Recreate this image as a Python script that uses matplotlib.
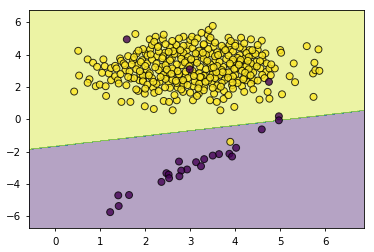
import numpy as np
import matplotlib
matplotlib.use("Agg")
from matplotlib import pyplot as plt

# class 1 (yellow) points
yellow_x = [
    0.42, 0.51, 0.53, 0.72, 0.76, 0.72, 0.84, 0.93, 0.90, 0.99, 1.04, 1.07, 1.10, 1.12, 1.13,
    1.19, 1.24, 1.24, 1.33, 1.36, 1.33, 1.39, 1.41, 1.44, 1.46, 1.47, 1.52, 1.56, 1.58, 1.62,
    1.67, 1.68, 1.73, 1.78, 1.81, 1.83, 1.84, 1.87, 1.89, 1.93, 1.95, 1.99, 1.99, 2.01, 2.04,
    2.04, 2.07, 2.10, 2.11, 2.15, 2.17, 2.19, 2.20, 2.23, 2.26, 2.29, 2.32, 2.35, 2.39, 2.41,
    2.41, 2.44, 2.47, 2.48, 2.52, 2.53, 2.59, 2.61, 2.64, 2.67, 2.69, 2.70, 2.72, 2.74, 2.78,
    2.81, 2.84, 2.85, 2.87, 2.89, 2.93, 2.96, 3.00, 3.04, 3.06, 3.07, 3.11, 3.11, 3.15, 3.16,
    3.19, 3.21, 3.22, 3.26, 3.30, 3.31, 3.33, 3.36, 3.39, 3.41, 3.43, 3.44, 3.46, 3.48, 3.50,
    3.50, 3.52, 3.53, 3.56, 3.58, 3.59, 3.63, 3.67, 3.68, 3.73, 3.74, 3.76, 3.80, 3.81, 3.85,
    3.87, 3.89, 3.93, 3.96, 3.98, 4.00, 4.02, 4.05, 4.10, 4.13, 4.15, 4.17, 4.19, 4.22, 4.24,
    4.27, 4.32, 4.35, 4.37, 4.39, 4.42, 4.47, 4.50, 4.54, 4.56, 4.59, 4.61, 4.67, 4.69, 4.70,
    4.72, 4.76, 4.76, 4.79, 4.88, 5.00, 5.02, 5.04, 5.21, 5.30, 5.33, 5.59, 5.73, 5.74, 5.76,
    5.78, 5.85, 5.87,
    1.95, 2.30, 2.55, 2.85, 3.05, 3.20, 3.40, 3.60, 3.75, 3.95, 4.10, 4.25, 4.45, 2.05, 2.40,
    2.65, 2.95, 3.35, 3.55, 3.85, 4.05, 4.30, 4.60,
    1.70, 1.90, 2.15, 2.25, 2.55, 2.70, 2.90, 3.00, 3.15, 3.30, 3.45, 3.65, 3.90, 4.10, 4.35,
    4.55, 1.55, 2.00, 2.45, 2.80, 3.60, 3.95, 4.25, 4.80,
    1.65, 1.80, 2.10, 2.30, 2.50, 2.60, 2.75, 3.05, 3.20, 3.35, 3.50, 3.70, 3.85, 4.00, 4.15,
    4.40, 4.60, 1.45, 1.95, 2.40, 2.90, 3.30, 3.65, 4.30,
    1.75, 1.95, 2.15, 2.25, 2.60, 2.70, 2.95, 3.10, 3.25, 3.40, 3.55, 3.70, 3.90, 4.05, 4.20,
    4.50, 2.05, 2.45, 2.85, 3.20, 3.60, 3.95, 4.35, 4.65,
    2.00, 2.30, 2.55, 2.80, 3.00, 3.30, 3.50, 3.75, 3.95, 4.20, 2.65, 3.15, 3.85, 1.80, 4.40,
    2.20, 2.60, 3.10, 3.30, 3.55, 3.90, 4.20, 2.45, 2.85, 3.70, 4.00, 4.50, 1.85, 1.75, 2.75,
    3.25, 3.45,
    2.12, 2.38, 2.62, 2.88, 3.12, 3.38, 3.62, 3.88, 4.12, 4.38,
    2.22, 2.48, 2.72, 2.98, 3.22, 3.48, 3.72, 3.98, 4.22,
    2.08, 2.34, 2.58, 2.84, 3.08, 3.34, 3.58, 3.84, 4.08, 4.34,
    2.18, 2.44, 2.68, 2.94, 3.18, 3.44, 3.68, 3.94, 4.18,
    1.88, 2.28, 2.78, 3.28, 3.78, 4.28, 1.62, 4.48, 2.52, 3.02, 3.52,
    3.89,
]
yellow_y = [
    1.72, 4.24, 2.71, 3.71, 2.48, 2.26, 3.50, 3.25, 2.05, 2.15, 2.88, 3.71, 3.29, 2.05, 1.45,
    2.84, 3.17, 2.42, 3.31, 3.15, 2.67, 2.42, 2.22, 3.77, 3.62, 1.08, 3.46, 3.04, 2.11, 3.91,
    1.08, 2.53, 3.66, 5.28, 4.08, 3.35, 1.76, 2.42, 2.80, 3.66, 2.42, 1.59, 0.81, 4.08, 3.46,
    3.04, 2.73, 4.95, 4.33, 4.60, 1.97, 0.64, 1.64, 5.11, 3.91, 4.54, 2.32, 3.25, 4.95, 5.24,
    1.14, 4.12, 2.63, 3.56, 2.22, 1.08, 3.77, 0.56, 3.04, 4.39, 4.60, 1.18, 1.97, 2.63, 3.97,
    3.35, 1.70, 5.11, 2.32, 2.80, 4.29, 4.60, 4.91, 5.11, 1.18, 2.05, 3.71, 2.80, 4.18, 5.01,
    1.59, 2.42, 3.25, 3.97, 4.60, 1.97, 2.73, 3.56, 5.22, 5.53, 4.91, 1.18, 4.08, 2.22, 5.78,
    3.04, 4.50, 1.59, 3.66, 2.63, 1.08, 1.90, 0.56, 4.08, 3.25, 1.26, 2.42, 3.73, 2.84, 5.05,
    4.60, 4.29, 2.11, 3.56, 0.77, 4.70, 3.15, 2.42, 3.97, 5.05, 2.05, 4.39, 3.25, 3.77, 2.42,
    2.73, 4.29, 4.95, 3.15, 3.97, 2.42, 3.56, 4.29, 1.22, 3.15, 4.87, 3.66, 4.08, 2.94, 3.46,
    1.70, 1.28, 3.15, 2.73, 3.15, 4.29, 4.12, 1.55, 2.67, 3.46, 2.30, 4.53, 2.84, 1.39, 3.50,
    3.04, 4.33, 3.00,
    4.35, 4.20, 4.45, 4.10, 4.40, 4.25, 4.35, 4.15, 4.40, 4.20, 4.45, 4.10, 4.05, 3.95, 3.90,
    4.05, 3.85, 4.00, 3.90, 3.95, 3.80, 3.85, 3.95,
    3.40, 3.55, 3.70, 3.45, 3.65, 3.40, 3.60, 3.35, 3.50, 3.75, 3.40, 3.55, 3.35, 3.55, 3.45,
    3.60, 3.35, 3.30, 3.35, 3.75, 3.30, 3.70, 3.30, 3.40,
    2.95, 3.10, 2.85, 3.05, 2.90, 3.15, 2.80, 3.00, 2.85, 3.10, 2.80, 3.05, 2.90, 2.75, 3.00,
    2.90, 2.75, 2.80, 2.70, 2.75, 2.95, 2.70, 2.75, 3.10,
    2.55, 2.35, 2.55, 2.20, 2.45, 2.25, 2.55, 2.35, 2.60, 2.40, 2.55, 2.25, 2.50, 2.25, 2.60,
    2.40, 2.15, 2.50, 2.15, 2.20, 2.10, 2.65, 2.20, 2.55,
    1.90, 1.75, 1.95, 1.85, 1.65, 1.80, 1.95, 1.75, 1.90, 1.70, 1.50, 1.45, 1.50, 1.85, 1.85,
    4.80, 4.85, 4.75, 4.65, 4.75, 4.85, 4.70, 4.65, 4.55, 4.55, 4.55, 4.60, 4.25, 3.85, 5.00,
    5.35, 5.05,
    4.02, 3.78, 4.22, 3.52, 4.08, 3.62, 3.98, 3.45, 3.68, 4.28,
    3.22, 3.08, 2.98, 3.28, 2.62, 3.18, 2.92, 3.12, 2.88,
    2.72, 2.62, 2.82, 2.42, 2.68, 2.32, 2.92, 2.58, 3.38, 2.72,
    2.32, 1.98, 2.38, 2.12, 1.92, 2.58, 2.02, 2.28, 2.48,
    2.98, 4.48, 4.28, 4.12, 4.28, 3.62, 2.62, 3.28, 4.18, 3.72, 3.22,
    -1.39,
]

# class 0 (purple) points
purple_x = [1.59, 2.99, 4.75, 4.97, 4.97, 4.59, 4.02, 3.87, 3.93, 3.64, 3.50, 3.31, 3.13,
            3.24, 2.75, 2.93, 2.80, 2.76, 2.47, 2.52, 2.53, 2.36, 1.40, 1.64, 1.41, 1.22]
purple_y = [4.95, 3.10, 2.32, 0.19, -0.06, -0.62, -1.76, -2.13, -2.30, -2.15, -2.24, -2.46, -2.65,
            -2.90, -2.61, -3.10, -3.17, -3.52, -3.33, -3.42, -3.64, -3.87, -4.70, -4.68, -5.36, -5.74]

# linear decision boundary: y = slope * x + intercept
slope = 0.3226
intercept = -1.666

X = np.array(list(zip(yellow_x, yellow_y)) + list(zip(purple_x, purple_y)))
labels = np.array([1] * len(yellow_x) + [0] * len(purple_x))

x_min, x_max = X[:, 0].min() - 1, X[:, 0].max() + 1
y_min, y_max = X[:, 1].min() - 1, X[:, 1].max() + 1
xx, yy = np.meshgrid(np.arange(x_min, x_max, 0.02), np.arange(y_min, y_max, 0.02))
Z = (yy > slope * xx + intercept).astype(int)

fig = plt.figure(figsize=(3.74, 2.52), dpi=100)
ax = fig.add_axes([0.078, 0.094, 0.895, 0.866])
ax.contourf(xx, yy, Z, alpha=0.4)
ax.scatter(X[:, 0], X[:, 1], c=labels, edgecolor='k', s=25, linewidths=0.7, alpha=0.8)
ax.set_xlim(xx.min(), xx.max())
ax.set_ylim(yy.min(), yy.max())
ax.tick_params(labelsize=7.4, length=2.5, width=0.6)
for sp in ax.spines.values():
    sp.set_linewidth(0.6)

fig.savefig('out.png', dpi=100)
